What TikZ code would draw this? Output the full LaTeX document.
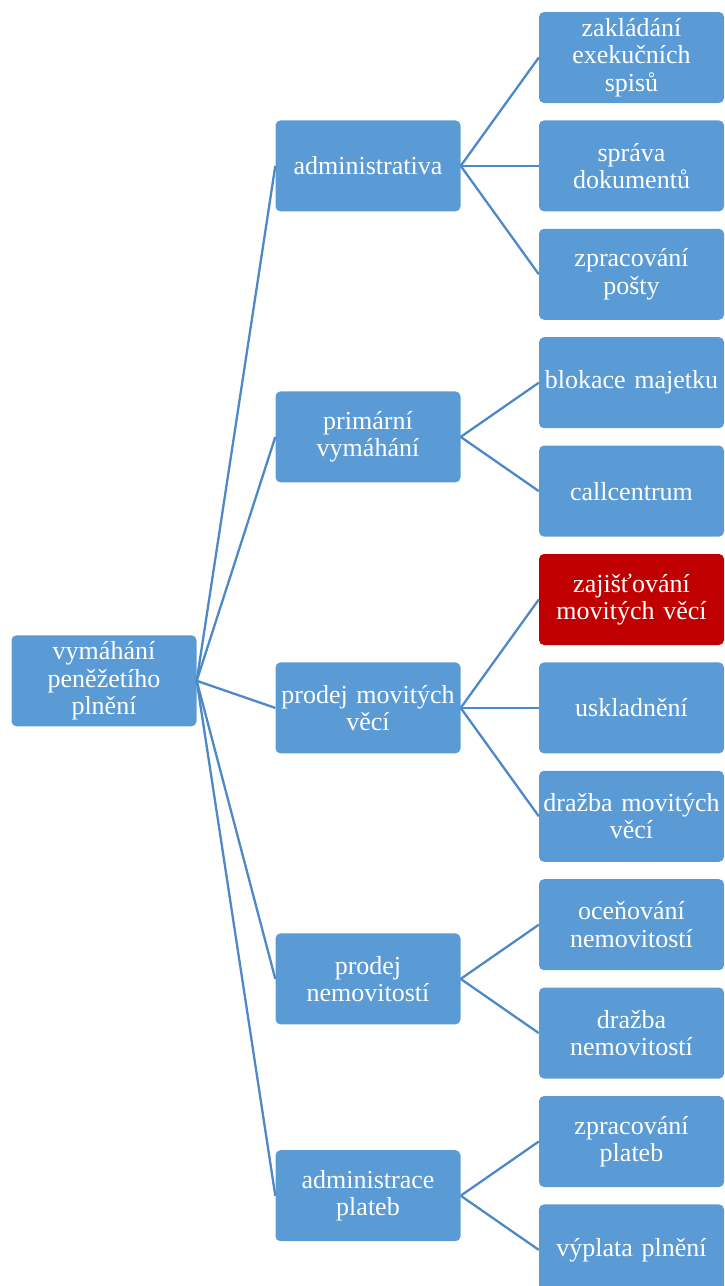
\documentclass[tikz,border=0pt]{standalone}
\usepackage{fontspec}
\setmainfont{Liberation Serif}
\definecolor{boxblue}{HTML}{5B9BD5}
\definecolor{boxred}{HTML}{C00000}
\definecolor{linkblue}{HTML}{4D89C6}
\begin{document}
\begin{tikzpicture}[x=1pt,y=-1pt,
  box/.style={fill=boxblue, draw=none, rounded corners=5pt, minimum width=185pt,
    minimum height=91pt, text width=180pt, align=center, text=white, inner sep=0pt,
    font=\fontsize{26}{27.5}\selectfont},
  hot/.style={box, fill=boxred},
  link/.style={draw=linkblue, line width=2.3pt}]
\useasboundingbox (0,0) rectangle (725,1286);
% root
\node[box] (root) at (104,680.8) {vymáhání\\peněžetího\\plnění};
% second level
\node[box] (a) at (368,165.9) {administrativa};
\node[box] (b) at (368,436.9) {primární\\vymáhání};
\node[box] (c) at (368,707.9) {prodej movitých\\věcí};
\node[box] (d) at (368,978.9) {prodej\\nemovitostí};
\node[box] (e) at (368,1195.7) {administrace\\plateb};
% third level
\node[box] (a1) at (631.5,57.5) {zakládání\\exekučních\\spisů};
\node[box] (a2) at (631.5,165.9) {správa\\dokumentů};
\node[box] (a3) at (631.5,274.3) {zpracování\\pošty};
\node[box] (b1) at (631.5,382.7) {blokace majetku};
\node[box] (b2) at (631.5,491.1) {callcentrum};
\node[hot] (c1) at (631.5,599.5) {zajišťování\\movitých věcí};
\node[box] (c2) at (631.5,707.9) {uskladnění};
\node[box] (c3) at (631.5,816.3) {dražba movitých\\věcí};
\node[box] (d1) at (631.5,924.7) {oceňování\\nemovitostí};
\node[box] (d2) at (631.5,1033.1) {dražba\\nemovitostí};
\node[box] (e1) at (631.5,1141.5) {zpracování\\plateb};
\node[box] (e2) at (631.5,1249.9) {výplata plnění};
% connectors
\foreach \p/\c in {root/a,root/b,root/c,root/d,root/e,
  a/a1,a/a2,a/a3,b/b1,b/b2,c/c1,c/c2,c/c3,d/d1,d/d2,e/e1,e/e2}
  \draw[link] (\p.east) -- (\c.west);
\end{tikzpicture}
\end{document}
